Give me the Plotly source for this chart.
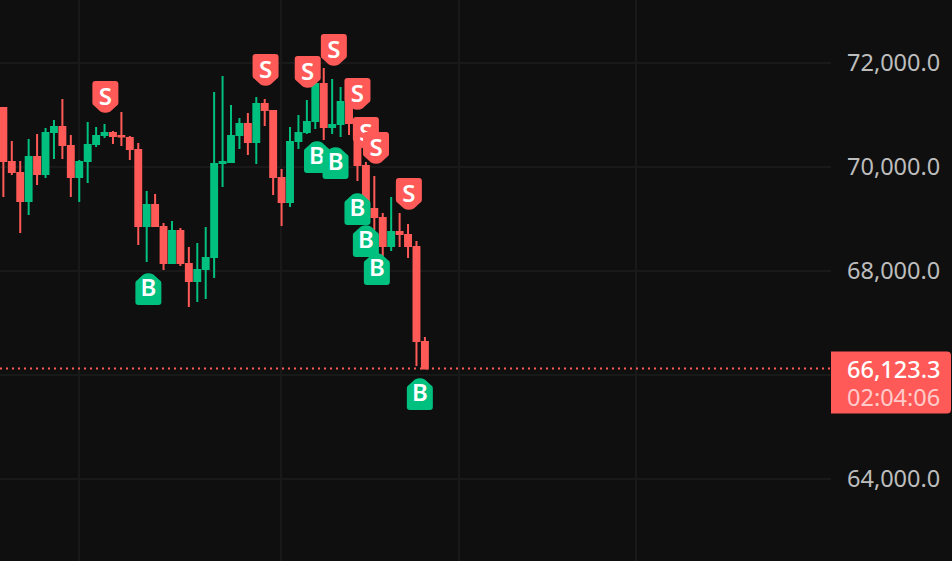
import plotly.graph_objects as go

# candles, one per session index
opens = [71135, 70097, 69885, 69347, 70193, 69866, 70674, 70770, 70404, 69808,
         70116, 70443, 70616, 70654, 70597, 70558, 70327, 68866, 69270, 68847,
         68155, 68770, 68135, 67808, 68039, 68270, 70077, 70097, 70616, 70827,
         70481, 71212, 71077, 69789, 69328, 70501, 70674, 70885, 71597, 70770,
         70827, 71654, 70751, 70020, 69193, 69020, 68481, 68751, 68693, 68462,
         66635]
highs = [71154, 70501, 70116, 70539, 70635, 70751, 70904, 71308, 70616, 70135,
         70866, 70770, 70827, 70693, 71058, 70597, 70462, 69539, 69481, 68924,
         68962, 68828, 68462, 68539, 68847, 71443, 71751, 71193, 70943, 71039,
         71347, 71308, 71097, 69962, 70770, 71001, 71289, 71674, 71904, 71693,
         71539, 71712, 70904, 70097, 69827, 69116, 69424, 69116, 68904, 68577,
         66731]
lows = [69424, 69847, 68731, 69078, 69654, 69789, 70154, 70154, 69424, 69328,
        69693, 70385, 70558, 70443, 70404, 70135, 68501, 68174, 68847, 68020,
        68135, 68097, 67308, 67405, 67462, 67866, 69616, 70077, 70347, 70231,
        70058, 70789, 69462, 68866, 69231, 70347, 70635, 70731, 70520, 70635,
        70577, 70616, 69731, 68943, 68789, 68270, 68385, 68462, 68251, 66174,
        66123.3]
closes = [70116, 69904, 69347, 70193, 69866, 70654, 70770, 70424, 69808, 70097,
          70424, 70597, 70654, 70597, 70587, 70347, 68866, 69270, 68866, 68155,
          68770, 68155, 67808, 68020, 68251, 70058, 70097, 70597, 70827, 70481,
          71212, 71097, 69808, 69328, 70481, 70654, 70866, 71597, 70770, 70808,
          71251, 70847, 70039, 69289, 69039, 68481, 68751, 68712, 68481, 66655,
          66123.3]
candle_idx = list(range(len(opens)))

# trade flags: fractional index, price
sell_idx = [12.1, 31.1, 36.1, 39.2, 42.0, 43.0, 44.2, 48.1]
sell_px = [71347, 71866, 71827, 72250, 71404, 70654, 70366, 69481]
buy_idx = [17.2, 37.2, 39.4, 42.0, 43.0, 44.3, 49.4]
buy_px = [67654, 70193, 70077, 69193, 68578, 68039, 65635]

LAST_PRICE = 66123.3
COUNTDOWN = "02:04:06"
price_ticks = [62000, 64000, 66000, 68000, 70000, 72000, 74000]
price_tick_labels = ["", "64,000.0", "", "68,000.0", "70,000.0", "72,000.0", ""]
time_grid = [8.92, 32.92, 54.05, 75.02]

RED = "#ff5a57"
GREEN = "#00c07f"
BG = "#0f0f0f"
GRID = "#191919"
FONT = "Noto Sans"

Y_RANGE = [62423, 73211.5]
X_RANGE = [-0.4, 98.17]

SELL_PATH = "M -10,16 L 10,16 Q 13,16 13,13 L 13,-6 Q 13,-8 11,-9 L 5,-14.5 Q 0,-17 -5,-14.5 L -11,-9 Q -13,-8 -13,-6 L -13,13 Q -13,16 -10,16 Z"
BUY_PATH = "M -10,-16 L 10,-16 Q 13,-16 13,-13 L 13,6 Q 13,8 11,9 L 5,14.5 Q 0,17 -5,14.5 L -11,9 Q -13,8 -13,6 L -13,-13 Q -13,-16 -10,-16 Z"
TAG_PATH = "M 0,31 L 116,31 Q 120,31 120,27 L 120,-27 Q 120,-31 116,-31 L 0,-31 Z"


def flag(x, y, path, color, letter):
    return dict(
        type="path", xref="x", yref="y", xsizemode="pixel", ysizemode="pixel",
        xanchor=x, yanchor=y, path=path, fillcolor=color, line=dict(width=0),
        layer="above",
        label=dict(text=letter, textposition="middle center",
                   font=dict(family=FONT, size=24, color="white", weight=600)),
    )


fig = go.Figure(go.Candlestick(
    x=candle_idx, open=opens, high=highs, low=lows, close=closes,
    whiskerwidth=0,
    increasing=dict(line=dict(color=GREEN, width=2), fillcolor=GREEN),
    decreasing=dict(line=dict(color=RED, width=2), fillcolor=RED),
    hoverinfo="skip",
))

shapes = [dict(type="line", xref="paper", yref="y", x0=0, x1=1, y0=LAST_PRICE, y1=LAST_PRICE,
               line=dict(color=RED, width=2, dash="2px 4px"), layer="above")]
for x, y in zip(sell_idx, sell_px):
    shapes.append(flag(x, y, SELL_PATH, RED, "S"))
for x, y in zip(buy_idx, buy_px):
    shapes.append(flag(x, y, BUY_PATH, GREEN, "B"))

# price tag sits in the right margin, so it is placed on paper
tag_y = (LAST_PRICE - Y_RANGE[0]) / (Y_RANGE[1] - Y_RANGE[0])
shapes.append(dict(type="path", xref="paper", yref="paper", xsizemode="pixel", ysizemode="pixel",
                   xanchor=1, yanchor=tag_y - 14 / 561, path=TAG_PATH, fillcolor=RED,
                   line=dict(width=0), layer="above"))

# font size here sets the 28px line step, the spans set the glyph size
tag_text = (f'<span style="font-size:23.5px;font-weight:500">{LAST_PRICE:,.1f}</span><br>'
            f'<span style="font-size:23.5px;color:rgba(255,255,255,0.7)">{COUNTDOWN}</span>')
annotations = [
    dict(xref="paper", yref="paper", x=1, y=tag_y, xanchor="left", yanchor="middle",
         xshift=14, yshift=-14, align="left", text=tag_text, showarrow=False,
         font=dict(family=FONT, size=21.5, color="white")),
]

fig.update_layout(
    width=952, height=561, margin=dict(l=0, r=121, t=0, b=0),
    paper_bgcolor=BG, plot_bgcolor=BG, showlegend=False, boxgap=0.3, boxgroupgap=0,
    shapes=shapes, annotations=annotations,
    xaxis=dict(range=X_RANGE, tickvals=time_grid, showticklabels=False, ticks="",
               showgrid=True, gridcolor=GRID, gridwidth=2, zeroline=False,
               rangeslider=dict(visible=False)),
    yaxis=dict(range=Y_RANGE, side="right", tickvals=price_ticks, ticktext=price_tick_labels,
               ticks="", ticklabelstandoff=15, showgrid=True, gridcolor=GRID, gridwidth=2,
               zeroline=False, tickfont=dict(family=FONT, size=23.5, color="#bdbdbd")),
)

# the page's default body margin would push the chart 8px in
fig.write_html("out.html", config=dict(displayModeBar=False),
               post_script="document.body.style.margin='0';")
